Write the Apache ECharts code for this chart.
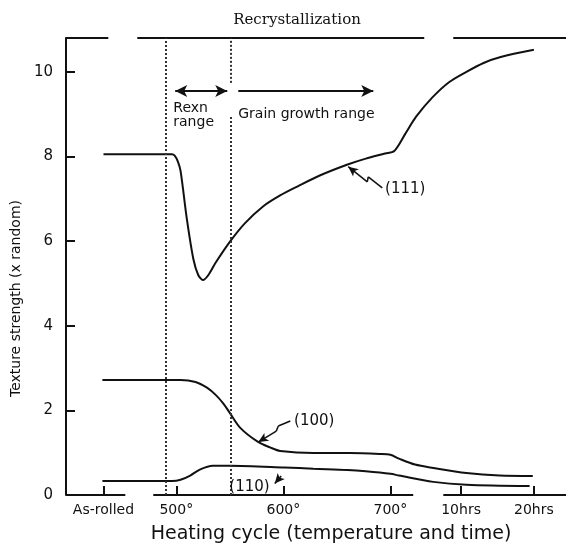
<!DOCTYPE html>
<html>
<head>
<meta charset="utf-8">
<script src="https://cdn.jsdelivr.net/npm/echarts@6/dist/echarts.min.js"></script>
<style>html,body{margin:0;padding:0;background:#fff}#main{width:566px;height:549px}</style>
</head>
<body>
<div id="main"></div>
<script>
var myChart = echarts.init(document.getElementById('main'));

// x positions of the heating cycle steps (500/600/700 are temperatures, others placed on the same scale)
var tickPos = [432, 500, 600, 700, 766, 834];
var tickNames = ['As-rolled', '500°', '600°', '700°', '10hrs', '20hrs'];
var yTicks = [0, 2, 4, 6, 8, 10];

// texture strength curves
var s111 = [[432,8.05],[496,8.05],[498.5,8.02],[501.5,7.88],[504,7.66],[510,6.5],[516,5.57],[520.5,5.2],[525,5.08],[530,5.2],[537,5.5],[550.5,6.0],[564,6.42],[581,6.82],[597,7.08],[613,7.29],[634,7.55],[660,7.81],[677,7.95],[695,8.07],[703.6,8.13],[714,8.54],[724,8.94],[739,9.39],[755,9.76],[771,10.0],[787,10.21],[803,10.35],[834,10.52]];
var s100 = [[431,2.72],[504,2.72],[518,2.67],[529,2.53],[537,2.36],[544,2.16],[550,1.94],[560,1.58],[576,1.26],[588,1.12],[597,1.04],[628,0.99],[662,0.99],[690,0.97],[700,0.95],[708,0.86],[723,0.72],[740,0.64],[771,0.52],[802,0.46],[833,0.45]];
var s110 = [[431,0.33],[496,0.33],[504,0.36],[513,0.46],[522,0.6],[534,0.69],[550,0.69],[601,0.65],[628,0.62],[660,0.59],[677,0.56],[700,0.5],[708,0.46],[740,0.31],[771,0.24],[830,0.21]];

// ranges and frame pieces
var rexnBounds = [490, 550.5];
var yTop = 10.8;
var axisSegs = [[397,452.4],[478.5,721.3],[749.4,864]];
var topSegs = [[397,436.5],[463.6,731.6],[758.7,864]];
var arrowY = 9.55;
var rexnArrow = [499, 547.6];
var growthArrow = [557.9, 684];

// annotation pointers (tip first) and labels
var ptr111 = [[660.6,7.76],[678.4,7.4],[679.3,7.52],[692.4,7.26]];
var ptr100 = [[576.6,1.25],[593.4,1.51],[595.3,1.63],[606.5,1.75]];
var ptr110 = [[592,0.27],[598,0.45]];
var notes = [
  {name:'(111)', coord:[695,7.24], label:{fontSize:15}},
  {name:'(100)', coord:[610,1.75], label:{fontSize:15}},
  {name:'(110)', coord:[549.5,0.19], label:{fontSize:15}},
  {name:'Rexn\nrange', coord:[497.2,8.96]},
  {name:'Grain growth range', coord:[557.9,9.0]}
];

var font = 'DejaVu Sans';
var ink = '#111';

function pointer(pts){
  var out = [[{coord:pts[1], symbol:'none'},{coord:pts[0], symbol:'arrow', symbolSize:[7,10]}]];
  for(var i=1;i<pts.length-1;i++){
    out.push([{coord:pts[i], symbol:'none'},{coord:pts[i+1], symbol:'none'}]);
  }
  return out;
}

var marks = [];
axisSegs.forEach(function(s){
  marks.push([{coord:[s[0],0], symbol:'none', lineStyle:{width:2}},{coord:[s[1],0], symbol:'none'}]);
});
topSegs.forEach(function(s){
  marks.push([{coord:[s[0],yTop], symbol:'none', lineStyle:{width:2}},{coord:[s[1],yTop], symbol:'none'}]);
});
var dots = {type:'dotted', width:2, color:'#333'};
marks.push([{coord:[rexnBounds[0],0], symbol:'none', lineStyle:dots},{coord:[rexnBounds[0],yTop], symbol:'none'}]);
marks.push([{coord:[rexnBounds[1],9.74], symbol:'none', lineStyle:dots},{coord:[rexnBounds[1],yTop], symbol:'none'}]);
marks.push([{coord:[rexnBounds[1],0], symbol:'none', lineStyle:dots},{coord:[rexnBounds[1],8.94], symbol:'none'}]);
marks.push([{coord:[rexnArrow[0],arrowY], symbol:'arrow', symbolSize:[9,12], lineStyle:{width:2}},{coord:[rexnArrow[1],arrowY], symbol:'arrow', symbolSize:[9,12]}]);
marks.push([{coord:[growthArrow[0],arrowY], symbol:'none', lineStyle:{width:2}},{coord:[growthArrow[1],arrowY], symbol:'arrow', symbolSize:[9,12]}]);
marks = marks.concat(pointer(ptr111), pointer(ptr100), pointer(ptr110));

var curve = {color: ink, width: 2};

var option = {
  animation: false,
  title: {
    text: 'Recrystallization',
    left: 292,
    top: 8,
    textAlign: 'center',
    textStyle: {fontFamily: 'DejaVu Serif', fontSize: 15, fontWeight: 'normal', color: ink}
  },
  grid: {left: 66, right: 0, top: 38, bottom: 53},
  xAxis: {
    type: 'value',
    min: 397,
    max: 864,
    axisLine: {show: false},
    splitLine: {show: false},
    axisTick: {show: true, inside: true, length: 9, customValues: tickPos, lineStyle: {color: ink, width: 2}},
    axisLabel: {
      customValues: tickPos,
      margin: 8,
      fontSize: 14,
      fontFamily: font,
      color: ink,
      formatter: function(v){ return tickNames[tickPos.indexOf(v)]; }
    },
    name: 'Heating cycle (temperature and time)',
    nameLocation: 'middle',
    nameGap: 30,
    nameTextStyle: {fontSize: 19, fontFamily: font, color: ink, padding: [0,0,0,30]}
  },
  yAxis: {
    type: 'value',
    min: 0,
    max: yTop,
    axisLine: {show: true, lineStyle: {color: ink, width: 2}},
    splitLine: {show: false},
    axisTick: {show: true, inside: true, length: 9, customValues: yTicks, lineStyle: {color: ink, width: 2}},
    axisLabel: {customValues: yTicks, margin: 13, fontSize: 15, fontFamily: font, color: ink},
    name: 'Texture strength (x random)',
    nameLocation: 'middle',
    nameGap: 37,
    nameTextStyle: {fontSize: 14, fontFamily: font, color: ink, padding: [0,64,0,0]}
  },
  series: [
    {
      name: '(111)',
      type: 'line',
      data: s111,
      smooth: 0.3,
      showSymbol: false,
      clip: false,
      lineStyle: curve,
      markLine: {
        silent: true,
        symbol: ['none','none'],
        label: {show: false},
        lineStyle: {color: ink, width: 1.5, type: 'solid'},
        data: marks
      },
      markPoint: {
        silent: true,
        symbol: 'circle',
        symbolSize: 0,
        label: {show: true, position: 'right', distance: 0, formatter: '{b}', fontFamily: font, fontSize: 14, color: ink, lineHeight: 14},
        data: notes
      }
    },
    {name: '(100)', type: 'line', data: s100, smooth: 0.3, showSymbol: false, lineStyle: curve},
    {name: '(110)', type: 'line', data: s110, smooth: 0.3, showSymbol: false, lineStyle: curve}
  ]
};

myChart.setOption(option);
</script>
</body>
</html>
